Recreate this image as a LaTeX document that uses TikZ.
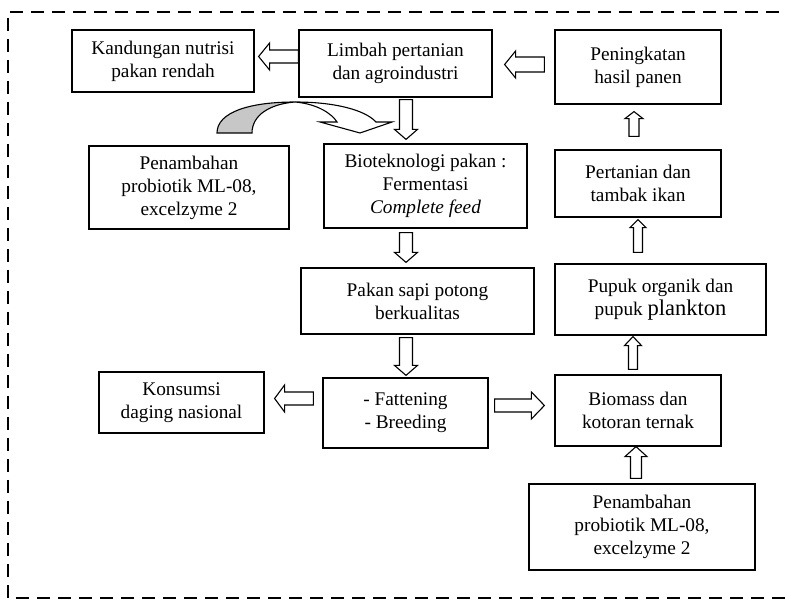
\documentclass[tikz,border=0pt]{standalone}
\usepackage{fontspec}
\setmainfont{Liberation Serif}
\usetikzlibrary{calc}

\begin{document}
\begin{tikzpicture}[x=1pt,y=1pt,
	kotak/.style={draw, line width=1.2pt, inner sep=0pt, align=center,
		font=\fontsize{19.3pt}{23pt}\selectfont},
	panah/.style n args={3}{draw, line width=1.1pt, fill=white, line join=miter, to path={
		($(\tikztostart)!#1!90:(\tikztotarget)$)
		-- ($(\tikztotarget)!#3!(\tikztostart)!#1!-90:(\tikztostart)$)
		-- ($(\tikztotarget)!#3!(\tikztostart)!#2!-90:(\tikztostart)$)
		-- (\tikztotarget)
		-- ($(\tikztotarget)!#3!(\tikztostart)!#2!90:(\tikztostart)$)
		-- ($(\tikztotarget)!#3!(\tikztostart)!#1!90:(\tikztostart)$)
		-- ($(\tikztostart)!#1!-90:(\tikztotarget)$) -- cycle}}]
	\useasboundingbox (0,0) rectangle (787,600);
	\draw[line width=2pt, dash pattern=on 13pt off 8pt] (800,588) -- (8,588) -- (8,2) -- (800,2);

	\node[kotak, minimum width=182, minimum height=62] (kandungan) at (163,539) {Kandungan nutrisi\\pakan rendah};
	\node[kotak, minimum width=193, minimum height=67] (limbah) at (395.5,536.5) {Limbah pertanian\\dan agroindustri};
	\node[kotak, minimum width=166, minimum height=74] (panen) at (638,533) {Peningkatan\\hasil panen};
	\node[kotak, minimum width=200, minimum height=83] (probiotik1) at (189,412.5) {Penambahan\\probiotik ML-08,\\excelzyme 2};
	\node[kotak, minimum width=203, minimum height=84] (bioteknologi) at (425.5,414) {Bioteknologi pakan :\\Fermentasi\\\textit{Complete feed}};
	\node[kotak, minimum width=166, minimum height=67] (tambak) at (638,416.5) {Pertanian dan\\tambak ikan};
	\node[kotak, minimum width=233, minimum height=66] (pakan) at (417.5,299) {Pakan sapi potong\\berkualitas};
	\node[kotak, minimum width=211, minimum height=71] (pupuk) at (660.5,300.5) {Pupuk organik dan\\pupuk {\fontsize{22.5pt}{23pt}\selectfont plankton}};
	\node[kotak, minimum width=165, minimum height=61] (konsumsi) at (181.5,197.5) {Konsumsi\\daging nasional};
	\node[kotak, minimum width=165, minimum height=70] (fattening) at (405.5,187) {- Fattening\\- Breeding};
	\node[kotak, minimum width=166, minimum height=71] (biomass) at (638,189.5) {Biomass dan\\kotoran ternak};
	\node[kotak, minimum width=226, minimum height=86] (probiotik2) at (642,73) {Penambahan\\probiotik ML-08,\\excelzyme 2};

	\draw[panah={6.5pt}{13.5pt}{11pt}] ([yshift=7]limbah.west) to ([xshift=4,yshift=4.5]kandungan.east);
	\draw[panah={7.5pt}{13.5pt}{11pt}] ([xshift=-10,yshift=2.5]panen.west) to ([xshift=12,yshift=-1]limbah.east);
	\draw[panah={6.5pt}{11.5pt}{10pt}] ([xshift=10.5,yshift=-2]limbah.south) to ([xshift=-19.5,yshift=4]bioteknologi.north);
	\draw[panah={6.5pt}{11.5pt}{10pt}] ([xshift=-19.5,yshift=-4]bioteknologi.south) to ([xshift=-11.5,yshift=5]pakan.north);
	\draw[panah={6.5pt}{11.5pt}{10pt}] ([xshift=-11.5,yshift=-3]pakan.south) to ([xshift=0.5,yshift=2]fattening.north);
	\draw[panah={6.5pt}{13.5pt}{10pt}] ([xshift=-9,yshift=14.5]fattening.west) to ([xshift=10,yshift=4]konsumsi.east);
	\draw[panah={6.5pt}{13.5pt}{13pt}] ([xshift=6,yshift=7.5]fattening.east) to ([xshift=-10,yshift=5]biomass.west);
	\draw[panah={5.5pt}{11pt}{10pt}] ([xshift=-6,yshift=5]probiotik2.north) to ([xshift=-2]biomass.south);
	\draw[panah={4.5pt}{8.5pt}{9pt}] ([xshift=-5,yshift=5]biomass.north) to ([xshift=-27.5,yshift=-1]pupuk.south);
	\draw[panah={4.5pt}{8pt}{8pt}] ([xshift=-22.5,yshift=11]pupuk.north) to ([yshift=-2]tambak.south);
	\draw[panah={5pt}{9pt}{7pt}] ([xshift=-4,yshift=13]tambak.north) to ([xshift=-4,yshift=-7]panen.south);

	\filldraw[line width=1.1pt, fill=black!22] (217,467) .. controls (217,488) and (250,498) .. (295,498)
		.. controls (270,496) and (252,485) .. (252,467) -- cycle;
	\draw[line width=1.1pt, fill=white, line join=miter] (295,498) .. controls (335,498) and (365,490) .. (376,478)
		-- (392,478) -- (360,467) -- (320,478) -- (337,478) .. controls (332,486) and (318,496) .. (295,498);
\end{tikzpicture}
\end{document}
